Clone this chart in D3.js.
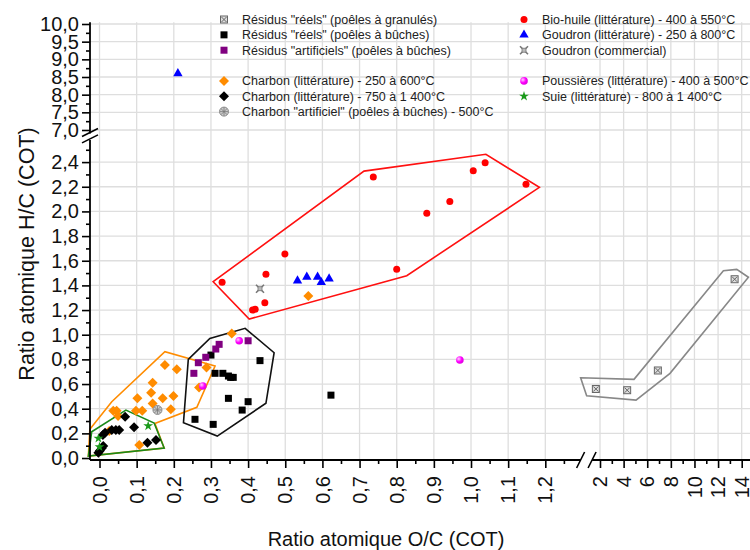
<!DOCTYPE html>
<html><head><meta charset="utf-8">
<script src="https://cdn.jsdelivr.net/npm/d3@7"></script>
<style>
html,body{margin:0;padding:0;background:#fff;}
svg{display:block;font-family:"Liberation Sans",Arial,sans-serif;}
</style></head>
<body>
<svg id="chart" width="750" height="550"></svg>
<script>
// ---------- DATA ----------
const residusGranules = [[1.65,0.56],[4.3,0.55],[6.9,0.71],[13.4,1.45]]; // on the 2–14 x segment
const residusBuches = [[0.30,0.835],[0.311,0.687],[0.332,0.687],[0.347,0.665],[0.353,0.654],[0.36,0.654],[0.432,0.79],[0.347,0.484],[0.40,0.457],[0.384,0.389],[0.257,0.314],[0.306,0.273],[0.623,0.51]];
const residusArtificiels = [[0.322,0.922],[0.313,0.884],[0.286,0.817],[0.266,0.773],[0.254,0.687],[0.40,0.951]];
const charbon250 = [[0.176,0.754],[0.208,0.72],[0.143,0.61],[0.139,0.53],[0.17,0.484],[0.199,0.503],[0.102,0.484],[0.143,0.443],[0.192,0.395],[0.037,0.384],[0.046,0.384],[0.098,0.384],[0.115,0.384],[0.107,0.105],[0.05,0.34],[0.026,0.22],[0.356,1.01],[0.288,0.735],[0.268,0.572],[0.562,1.314]];
const charbon750 = [[0.069,0.335],[0.093,0.249],[0.033,0.227],[0.044,0.227],[0.053,0.227],[0.015,0.205],[0.009,0.186],[0.01,0.097],[0.006,0.079],[0.001,0.059],[-0.003,0.043],[0.129,0.124],[0.152,0.146]];
const charbonArtificiel = [[0.156,0.39]];
const bioHuile = [[0.33,1.425],[0.448,1.49],[0.499,1.655],[0.445,1.26],[0.412,1.20],[0.419,1.206],[0.737,2.28],[0.80,1.53],[0.881,1.985],[0.943,2.08],[1.006,2.33],[1.038,2.395],[1.148,2.22]];
const goudron = [[0.533,1.438],[0.558,1.468],[0.587,1.468],[0.597,1.425],[0.618,1.454],[0.211,8.6]];
const goudronCommercial = [[0.432,1.373]];
const poussieres = [[0.376,0.951],[0.278,0.584],[0.97,0.795]];
const suie = [[-0.003,0.16],[0.131,0.26],[0.0,0.09]];

const polyBio = [[0.306,1.43],[0.403,1.127],[0.827,1.479],[1.184,2.195],[1.04,2.463],[0.712,2.327]];
const polyCharbon250 = [[-0.03,0.016],[-0.026,0.233],[0.033,0.457],[0.176,0.862],[0.311,0.746],[0.262,0.411],[0.149,0.281],[0.174,0.081]];
const polySuie = [[-0.021,0.213],[0.071,0.389],[0.147,0.284],[0.174,0.081],[-0.03,0.016]];
const polyBuches = [[0.239,0.80],[0.297,0.97],[0.392,1.052],[0.47,0.854],[0.448,0.444],[0.317,0.178],[0.226,0.286]];
const polyGranules = [[0.36,0.651],[4.88,0.638],[12.45,1.519],[13.58,1.53],[14.57,1.466],[7.93,0.687],[5.05,0.47],[0.87,0.505]]; // 2–14 segment

const xTicksLow = [0,0.1,0.2,0.3,0.4,0.5,0.6,0.7,0.8,0.9,1.0,1.1,1.2];
const xTicksHigh = [2,4,6,8,10,12,14];
const yTicksLow = [0,0.2,0.4,0.6,0.8,1.0,1.2,1.4,1.6,1.8,2.0,2.2,2.4];
const yTicksHigh = [7.0,7.5,8.0,8.5,9.0,9.5,10.0];

const legendLeft = [
  {label:'Résidus "réels" (poêles à granulés)', sym:'boxx'},
  {label:'Résidus "réels" (poêles à bûches)', sym:'sqblack'},
  {label:'Résidus "artificiels" (poêles à bûches)', sym:'sqpurple'},
  null,
  {label:'Charbon (littérature) - 250 à 600°C', sym:'diaorange'},
  {label:'Charbon (littérature) - 750 à 1 400°C', sym:'diablack'},
  {label:'Charbon "artificiel" (poêles à bûches) - 500°C', sym:'hatch'}
];
const legendRight = [
  {label:'Bio-huile (littérature) - 400 à 550°C', sym:'circred'},
  {label:'Goudron (littérature) - 250 à 800°C', sym:'triblue'},
  {label:'Goudron (commercial)', sym:'xstar'},
  null,
  {label:'Poussières (littérature) - 400 à 500°C', sym:'circmag'},
  {label:'Suie (littérature) - 800 à 1 400°C', sym:'stargreen'}
];

// ---------- SCALES ----------
const svg = d3.select("#chart");
const fr = d3.formatLocale({decimal:",",thousands:" ",grouping:[3],currency:["","€"]});
const f1 = fr.format(".1f"), f0 = fr.format("d");

const xLow = d3.scaleLinear().domain([-0.0256,1.295]).range([90,580.6]);
const xHigh = d3.scaleLinear().domain([2,14]).range([600,741.7]);
const yLow = d3.scaleLinear().domain([-0.016,2.58]).range([460,139.9]);
const yHigh = d3.scaleLinear().domain([7,10]).range([130,24]);
const X = v => xLow(v);
const Y = v => v >= 6 ? yHigh(v) : yLow(v);

const plotTop = yHigh(10.05), plotRight = 750, axisY = 460, axisX = 90;

const defs = svg.append("defs");
const rg = defs.append("radialGradient").attr("id","mag").attr("cx","35%").attr("cy","35%").attr("r","65%");
rg.append("stop").attr("offset","0%").attr("stop-color","#ffd0ff");
rg.append("stop").attr("offset","60%").attr("stop-color","#ff00ff");
rg.append("stop").attr("offset","100%").attr("stop-color","#e000e0");

// ---------- GRID ----------
const grid = svg.append("g").attr("stroke","#dedede").attr("stroke-width",1.3);
xTicksLow.forEach(v=>grid.append("line").attr("x1",xLow(v)).attr("x2",xLow(v)).attr("y1",plotTop).attr("y2",axisY));
xTicksHigh.forEach(v=>grid.append("line").attr("x1",xHigh(v)).attr("x2",xHigh(v)).attr("y1",plotTop).attr("y2",axisY));
yTicksLow.slice(1).forEach(v=>grid.append("line").attr("x1",axisX).attr("x2",plotRight).attr("y1",yLow(v)).attr("y2",yLow(v)));
yTicksHigh.forEach(v=>grid.append("line").attr("x1",axisX).attr("x2",plotRight).attr("y1",yHigh(v)).attr("y2",yHigh(v)));

// ---------- POLYGONS ----------
const line = d3.line().x(d=>X(d[0])).y(d=>Y(d[1])).curve(d3.curveLinearClosed);
const lineHigh = d3.line().x(d=>xHigh(d[0])).y(d=>Y(d[1])).curve(d3.curveLinearClosed);
svg.append("path").attr("d",line(polyCharbon250)).attr("fill","none").attr("stroke","#ff8c00").attr("stroke-width",1.6);
svg.append("path").attr("d",line(polySuie)).attr("fill","none").attr("stroke","#1a8a1a").attr("stroke-width",1.6);
svg.append("path").attr("d",line(polyBuches)).attr("fill","none").attr("stroke","#111").attr("stroke-width",1.6);
svg.append("path").attr("d",line(polyBio)).attr("fill","none").attr("stroke","#ff1010").attr("stroke-width",1.6);
svg.append("path").attr("d",lineHigh(polyGranules)).attr("fill","none").attr("stroke","#888").attr("stroke-width",1.6);

// ---------- SYMBOLS ----------
function drawSym(g, sym, x, y){
  const t = `translate(${x},${y})`;
  switch(sym){
    case 'boxx': {
      const s=g.append("g").attr("transform",t);
      s.append("rect").attr("x",-3.5).attr("y",-3.5).attr("width",7).attr("height",7).attr("fill","#ddd").attr("stroke","#666").attr("stroke-width",1);
      s.append("path").attr("d","M-2.5,-2.5L2.5,2.5M2.5,-2.5L-2.5,2.5").attr("stroke","#666").attr("stroke-width",1);
      break;}
    case 'sqblack': g.append("rect").attr("x",x-3.5).attr("y",y-3.5).attr("width",7).attr("height",7).attr("fill","#000"); break;
    case 'sqpurple': g.append("rect").attr("x",x-3.5).attr("y",y-3.5).attr("width",7).attr("height",7).attr("fill","#800080"); break;
    case 'diaorange': g.append("path").attr("transform",t).attr("d","M0,-5L5,0L0,5L-5,0Z").attr("fill","#ff8c00"); break;
    case 'diablack': g.append("path").attr("transform",t).attr("d","M0,-5L5,0L0,5L-5,0Z").attr("fill","#000"); break;
    case 'hatch': {
      const s=g.append("g").attr("transform",t);
      s.append("circle").attr("r",4.5).attr("fill","#ccc").attr("stroke","#888").attr("stroke-width",1);
      s.append("path").attr("d","M-3,-3L3,3M3,-3L-3,3M-4,0L4,0M0,-4L0,4").attr("stroke","#777").attr("stroke-width",0.8);
      break;}
    case 'circred': g.append("circle").attr("cx",x).attr("cy",y).attr("r",3.5).attr("fill","#ff0000"); break;
    case 'triblue': g.append("path").attr("transform",t).attr("d",d3.symbol(d3.symbolTriangle,38)()).attr("fill","#0000ff"); break;
    case 'xstar': {
      const s=g.append("g").attr("transform",t);
      s.append("path").attr("d","M-4,-4L4,4M4,-4L-4,4").attr("stroke","#777").attr("stroke-width",1.6);
      s.append("rect").attr("x",-2).attr("y",-2).attr("width",4).attr("height",4).attr("fill","#bbb").attr("stroke","#777").attr("stroke-width",0.8);
      break;}
    case 'circmag': g.append("circle").attr("cx",x).attr("cy",y).attr("r",3.8).attr("fill","url(#mag)"); break;
    case 'stargreen': g.append("path").attr("transform",t).attr("d",d3.symbol(d3.symbolStar,30)()).attr("fill","#1a9a1a"); break;
  }
}

const pts = svg.append("g");
const series = [
  [charbon250,'diaorange'],[charbon750,'diablack'],[suie,'stargreen'],[charbonArtificiel,'hatch'],
  [residusBuches,'sqblack'],[residusArtificiels,'sqpurple'],[poussieres,'circmag'],
  [bioHuile,'circred'],[goudron,'triblue'],[goudronCommercial,'xstar']
];
series.forEach(([data,sym])=>data.forEach(d=>drawSym(pts,sym,X(d[0]),Y(d[1]))));
residusGranules.forEach(d=>drawSym(pts,'boxx',xHigh(d[0]),Y(d[1])));

// ---------- AXES ----------
const tickFont = "20px";
function styleAxis(g){ g.select(".domain").remove(); g.selectAll("line").attr("stroke","#000").attr("stroke-width",1.6); g.selectAll("text").attr("fill","#111").style("font-size",tickFont).style("font-family","Liberation Sans, Arial, sans-serif"); }

// Y lower
const yMinorLow = d3.range(0,26).map(i=>i/10).filter(v=>Math.round(v*10)%2===1);
svg.append("g").attr("transform",`translate(${axisX},0)`).call(d3.axisLeft(yLow).tickValues(yMinorLow).tickSize(4).tickFormat("")).call(styleAxis);
svg.append("g").attr("transform",`translate(${axisX},0)`).call(d3.axisLeft(yLow).tickValues(yTicksLow).tickSize(8).tickPadding(3).tickFormat(f1)).call(styleAxis);
// Y upper
const yMinorHigh = [7.25,7.75,8.25,8.75,9.25,9.75];
svg.append("g").attr("transform",`translate(${axisX},0)`).call(d3.axisLeft(yHigh).tickValues(yMinorHigh).tickSize(4).tickFormat("")).call(styleAxis);
svg.append("g").attr("transform",`translate(${axisX},0)`).call(d3.axisLeft(yHigh).tickValues(yTicksHigh).tickSize(8).tickPadding(3).tickFormat(f1)).call(styleAxis);

// X lower
const xMinorLow = d3.range(0,26).map(i=>i*0.05).filter((v,i)=>i%2===1);
svg.append("g").attr("transform",`translate(0,${axisY})`).call(d3.axisBottom(xLow).tickValues(xMinorLow).tickSize(4).tickFormat("")).call(styleAxis);
const gxl = svg.append("g").attr("transform",`translate(0,${axisY})`).call(d3.axisBottom(xLow).tickValues(xTicksLow).tickSize(8).tickFormat(f1)).call(styleAxis);
// X upper
const xMinorHigh = [3,5,7,9,11,13];
svg.append("g").attr("transform",`translate(0,${axisY})`).call(d3.axisBottom(xHigh).tickValues(xMinorHigh).tickSize(4).tickFormat("")).call(styleAxis);
const gxh = svg.append("g").attr("transform",`translate(0,${axisY})`).call(d3.axisBottom(xHigh).tickValues(xTicksHigh).tickSize(8).tickFormat(f0)).call(styleAxis);
[gxl,gxh].forEach(g=>g.selectAll("text").attr("transform","rotate(-90)").attr("x",-16).attr("y",0).attr("dy","0.33em").style("text-anchor","end"));

// axis lines with breaks
const ax = svg.append("g").attr("stroke","#000").attr("stroke-width",1.8).attr("fill","none");
ax.append("line").attr("x1",axisX).attr("x2",axisX).attr("y1",plotTop).attr("y2",yHigh(6.9));
ax.append("line").attr("x1",axisX).attr("x2",axisX).attr("y1",yLow(2.58)).attr("y2",axisY);
ax.append("line").attr("x1",axisX).attr("x2",xLow(1.295)).attr("y1",axisY).attr("y2",axisY);
ax.append("line").attr("x1",xHigh(1.33)).attr("x2",plotRight).attr("y1",axisY).attr("y2",axisY);
// break marks
const yb1 = yHigh(6.9), yb2 = yLow(2.58);
ax.append("path").attr("d",`M${axisX-8},${yb1+3}L${axisX+8},${yb1-5}M${axisX-8},${yb2+3}L${axisX+8},${yb2-5}`).attr("stroke-width",1.6);
const xb1 = xLow(1.295), xb2 = xHigh(1.33);
ax.append("path").attr("d",`M${xb1-4},${axisY+8}L${xb1+4},${axisY-8}M${xb2-4},${axisY+8}L${xb2+4},${axisY-8}`).attr("stroke-width",1.6);

// ---------- TITLES ----------
svg.append("text").attr("x",386).attr("y",546).attr("text-anchor","middle").style("font-size","20px").attr("fill","#111").text("Ratio atomique O/C (COT)");
svg.append("text").attr("transform","translate(34,254) rotate(-90)").attr("text-anchor","middle").style("font-size","21.5px").attr("fill","#111").text("Ratio atomique H/C (COT)");

// ---------- LEGEND ----------
const leg = svg.append("g").style("font-size","12.5px").attr("fill","#222");
const rowY = i => 19.5 + i*15.35;
legendLeft.forEach((d,i)=>{ if(!d) return; drawSym(leg,d.sym,224,rowY(i)); leg.append("text").attr("x",242).attr("y",rowY(i)).attr("dy","0.35em").text(d.label); });
legendRight.forEach((d,i)=>{ if(!d) return; drawSym(leg,d.sym,524,rowY(i)); leg.append("text").attr("x",542).attr("y",rowY(i)).attr("dy","0.35em").text(d.label); });
</script>
</body></html>
